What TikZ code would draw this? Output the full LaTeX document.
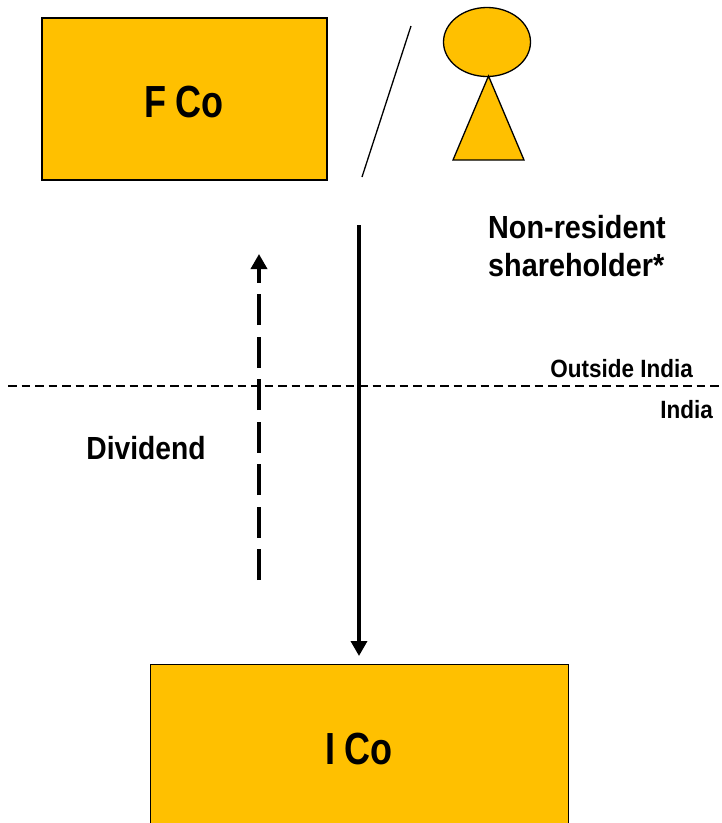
\documentclass[tikz,border=0pt]{standalone}
\usepackage{fontspec}
\setmainfont{Liberation Sans}
\usetikzlibrary{arrows.meta}
\definecolor{gold}{RGB}{255,192,0}
\tikzset{
  x=1pt,y=-1pt,
  goldshape/.style={draw=black,fill=gold,line width=1.3pt},
  boxlabel/.style={font=\bfseries\fontsize{45}{45}\selectfont,inner sep=0pt,xscale=.8},
  lbl/.style={font=\bfseries\fontsize{32}{38}\selectfont,inner sep=0pt,xscale=.9},
  small/.style={font=\bfseries\fontsize{25}{28}\selectfont,inner sep=0pt,xscale=.9},
  tip/.style={-{Triangle[length=15pt,width=16pt]}}
}
\begin{document}
\begin{tikzpicture}
\useasboundingbox (0,0) rectangle (722,823);
\clip (0,0) rectangle (722,823);
\draw[goldshape] (42,18) rectangle (327,180);
\node[boxlabel] (f) at (184,102) {F Co};
\draw[goldshape] (150.5,664.5) rectangle (568.5,840);
\node[boxlabel] (i) at (359,749) {I Co};
\coordinate (sa) at (411,26);
\coordinate (sb) at (362,177);
\draw[line width=1.3pt] (sa) -- (sb);
\draw[goldshape] (487,42) ellipse (43.5 and 34.5);
\draw[goldshape] (488.5,76) -- (524,160) -- (453,160) -- cycle;
\node[lbl,anchor=west] (n1) at (488,227) {Non-resident};
\node[lbl,anchor=west] (n2) at (488,265) {shareholder*};
\node[small,anchor=east] (o) at (693,369) {Outside India};
\node[small,anchor=east] (in) at (713,410) {India};
\node[lbl,xscale=.98] (d) at (146,448) {Dividend};
\coordinate (l1) at (8,386);
\coordinate (l2) at (722,386);
\draw[line width=1.3pt,dash pattern=on 8.5pt off 5pt] (l1) -- (l2);
\coordinate (a1) at (359,225);
\coordinate (a2) at (359,656);
\draw[tip,line width=3.5pt] (a1) -- (a2);
\coordinate (b1) at (259,580);
\coordinate (b2) at (259,254);
\draw[tip,line width=3.5pt,dash pattern=on 31pt off 11.5pt] (b1) -- (b2);
\end{tikzpicture}
\end{document}
